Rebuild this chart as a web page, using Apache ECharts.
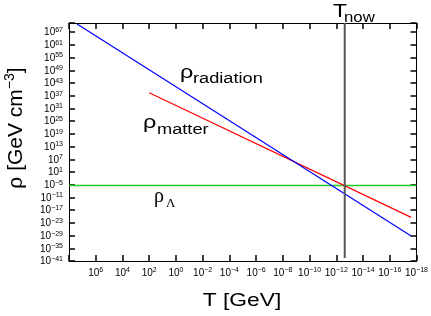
<!DOCTYPE html>
<html><head><meta charset="utf-8">
<script src="https://cdn.jsdelivr.net/npm/echarts@6/dist/echarts.min.js"></script>
<style>html,body{margin:0;padding:0;background:#fff}#c{width:431px;height:316px}</style>
</head><body><div id="c"></div>
<script>
// Data (T in GeV, rho in GeV cm^-3)
const radiationT = [2.5e7, 2.5e-18];
const radiationRho = [6.3e70, 6.3e-30];
const matterT = [1.0e2, 2.5e-18];
const matterRho = [2.5e38, 4.0e-21];
const lambdaT = [1e8, 1e-18];
const lambdaRho = [4.0e-6, 4.0e-6];
const tNow = [2.35e-13, 2.35e-13];
const tNowRho = [2e71, 2.5e-40];
const xTickExps = [6, 4, 2, 0, -2, -4, -6, -8, -10, -12, -14, -16, -18];
const yTickExps = [67, 61, 55, 49, 43, 37, 31, 25, 19, 13, 7, 1, -5, -11, -17, -23, -29, -35, -41];

const FONT = 'Liberation Sans';
const lg = v => Math.log10(v);
const pairs = (xs, ys) => xs.map((x, i) => [lg(x), lg(ys[i])]);
const rich = () => ({
  b: {fontSize: 10, fontFamily: FONT, color: '#000', lineHeight: 11, verticalAlign: 'bottom'},
  s: {fontSize: 7, fontFamily: FONT, color: '#000', lineHeight: 7, verticalAlign: 'top'}
});
function fmt(list) {
  return v => {
    const e = Math.round(v * 1000) / 1000;
    if (!list.some(t => Math.abs(t - e) < 1e-6)) return '';
    return '{b|10}{s|' + String(Math.round(e)).replace('-', '\u2212') + '}';
  };
}
function axis(kind, position, labels, tickInside, tickColor) {
  const a = {
    type: 'value', position, show: true,
    axisLine: {show: true, onZero: false, lineStyle: {color: '#000', width: 1}},
    axisTick: {show: true, inside: tickInside, length: 6, lineStyle: {color: tickColor, width: 1.5}},
    minorTick: {show: false},
    splitLine: {show: false},
    axisLabel: labels ? {show: true, margin: 6, showMinLabel: true, showMaxLabel: true,
      hideOverlap: false, formatter: fmt(labels), rich: rich()} : {show: false}
  };
  if (kind === 'x') Object.assign(a, {min: -18, max: 8, inverse: true, interval: 2});
  else Object.assign(a, {min: -41, max: 71.3, interval: 6});
  return a;
}

const chart = echarts.init(document.getElementById('c'), null, {renderer: 'canvas'});
const line = (name, xs, ys, color, width) => ({
  type: 'line', name, data: pairs(xs, ys), showSymbol: false, symbol: 'none',
  lineStyle: {color, width}, itemStyle: {color}, animation: false, silent: true, z: 3
});
chart.setOption({
  animation: false,
  backgroundColor: '#fff',
  grid: {left: 69, right: 13, top: 23, bottom: 55, containLabel: false},
  xAxis: [axis('x', 'bottom', xTickExps, true, '#000'), axis('x', 'top', null, true, '#000')],
  yAxis: [axis('y', 'left', yTickExps, true, '#000'), axis('y', 'right', null, true, '#000')],
  series: [
    line('lambda', lambdaT, lambdaRho, '#22cc22', 1.5),
    line('matter', matterT, matterRho, '#ff0000', 1.2),
    line('radiation', radiationT, radiationRho, '#0000ff', 1.2),
    line('now', tNow, tNowRho, '#555555', 2)
  ],
  graphic: [
    {type: 'text', x: 15, y: 128, rotation: Math.PI / 2, style: {
      text: '{a|\u03c1 [GeV cm}{s|\u22123}{a|]}', align: 'center', verticalAlign: 'middle',
      rich: {a: {fontSize: 21, fontFamily: FONT, color: '#000', lineHeight: 24, verticalAlign: 'bottom'},
             s: {fontSize: 14, fontFamily: FONT, color: '#000', lineHeight: 14, verticalAlign: 'top'}}}},
    {type: 'text', x: 242, y: 301, scaleX: 1.2, style: {text: 'T [GeV]', fontSize: 19, fontFamily: FONT,
      fill: '#000', align: 'center', verticalAlign: 'middle'}},
    {type: 'text', x: 333, y: 21, scaleX: 1.2, style: {text: 'T', fontSize: 19, fontFamily: FONT,
      fill: '#000', align: 'left', verticalAlign: 'bottom'}},
    {type: 'text', x: 344, y: 25, scaleX: 1.2, style: {text: 'now', fontSize: 14, fontFamily: FONT,
      fill: '#000', align: 'left', verticalAlign: 'bottom'}},
    {type: 'text', x: 180, y: 82, scaleX: 1.3, style: {text: '\u03c1', fontSize: 18, fontFamily: FONT,
      fill: '#000', align: 'left', verticalAlign: 'bottom'}},
    {type: 'text', x: 193, y: 86, scaleX: 1.3, style: {text: 'radiation', fontSize: 14, fontFamily: FONT,
      fill: '#000', align: 'left', verticalAlign: 'bottom'}},
    {type: 'text', x: 143, y: 132, scaleX: 1.3, style: {text: '\u03c1', fontSize: 18, fontFamily: FONT,
      fill: '#000', align: 'left', verticalAlign: 'bottom'}},
    {type: 'text', x: 157, y: 137, scaleX: 1.3, style: {text: 'matter', fontSize: 14, fontFamily: FONT,
      fill: '#000', align: 'left', verticalAlign: 'bottom'}},
    {type: 'text', x: 154, y: 207, style: {text: '\u03c1', fontSize: 20, fontFamily: 'Liberation Serif',
      fill: '#000', align: 'left', verticalAlign: 'bottom'}},
    {type: 'text', x: 166, y: 210, style: {text: '\u039b', fontSize: 13, fontFamily: 'Liberation Serif',
      fill: '#000', align: 'left', verticalAlign: 'bottom'}}
  ]
});
</script></body></html>
